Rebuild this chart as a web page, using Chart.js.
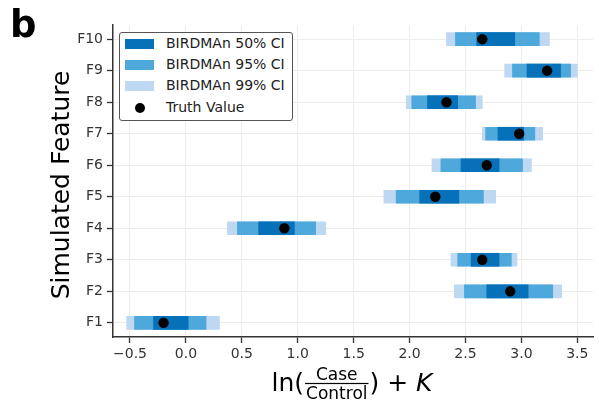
<!DOCTYPE html>
<html>
<head>
<meta charset="utf-8">
<script src="https://cdn.jsdelivr.net/npm/chart.js@4"></script>
<style>
  html, body { margin: 0; padding: 0; background: #fff; }
  #wrap { position: relative; width: 599px; height: 409px; font-family: 'DejaVu Sans', sans-serif; }
  #legend {
    position: absolute; left: 119px; top: 32px; width: 172px; height: 87px;
    border: 1.5px solid #555; border-radius: 3px; background: #fff;
  }
  .lg-row { position: absolute; left: 0; height: 20px; width: 100%; }
  .lg-sw { position: absolute; left: 5px; top: 5px; width: 29px; height: 10px; }
  .lg-dot { position: absolute; left: 15px; top: 5px; width: 10px; height: 10px; border-radius: 50%; background: #000; }
  .lg-txt { position: absolute; left: 46px; top: 1px; font-size: 14px; color: #222; white-space: nowrap; }
</style>
</head>
<body>
<div id="wrap">
  <canvas id="chart" width="599" height="409"></canvas>
  <div id="legend"></div>
</div>
<script>
// ===== SIMULATED FEATURES: BIRDMAn credible intervals =====
const features = ['F1', 'F2', 'F3', 'F4', 'F5', 'F6', 'F7', 'F8', 'F9', 'F10'];

const truthValues = [-0.20, 2.90, 2.65, 0.88, 2.23, 2.69, 2.98, 2.33, 3.23, 2.65];

const ci50Low  = [-0.29, 2.69, 2.55, 0.65, 2.09, 2.46, 2.79, 2.16, 3.05, 2.60];
const ci50High = [ 0.02, 3.06, 2.80, 0.97, 2.44, 2.80, 3.02, 2.43, 3.35, 2.94];
const ci95Low  = [-0.46, 2.49, 2.43, 0.46, 1.88, 2.28, 2.68, 2.02, 2.92, 2.41];
const ci95High = [ 0.18, 3.28, 2.91, 1.16, 2.66, 3.01, 3.12, 2.59, 3.44, 3.16];
const ci99Low  = [-0.53, 2.40, 2.37, 0.37, 1.77, 2.20, 2.65, 1.97, 2.85, 2.33];
const ci99High = [ 0.30, 3.36, 2.96, 1.25, 2.77, 3.09, 3.19, 2.65, 3.50, 3.25];

const xTicks = [-0.5, 0.0, 0.5, 1.0, 1.5, 2.0, 2.5, 3.0, 3.5];

const COLORS = { ci50: '#0671b8', ci95: '#4ea8dc', ci99: '#bdd8f0', truth: '#000000' };
const AXIS = '#333333';
const GRID = '#ececec';

Chart.defaults.font.family = "'DejaVu Sans', sans-serif";
Chart.defaults.color = '#333';

const interval = (lo, hi) => features.map((f, i) => ({ y: i + 1, x: [lo[i], hi[i]] }));

function ciDataset(label, lo, hi, color, order) {
  return {
    label, order,
    data: interval(lo, hi),
    backgroundColor: color,
    borderWidth: 0,
    borderSkipped: false,
    barThickness: 13,
    grouped: false
  };
}

// axis titles + panel letter, drawn after the chart
const annotations = {
  id: 'annotations',
  afterDraw(chart) {
    const { ctx, chartArea } = chart;
    ctx.save();
    ctx.fillStyle = '#000';

    // panel letter
    ctx.font = "bold 37px 'DejaVu Sans'";
    ctx.textAlign = 'left';
    ctx.textBaseline = 'alphabetic';
    ctx.fillText('b', 10, 37);

    // y title
    ctx.font = "25px 'DejaVu Sans'";
    ctx.translate(68.5, (chartArea.top + chartArea.bottom) / 2 + 4);
    ctx.rotate(-Math.PI / 2);
    ctx.textAlign = 'center';
    ctx.fillText('Simulated Feature', 0, 0);
    ctx.restore();

    // x title: ln(Case/Control) + K
    ctx.save();
    ctx.fillStyle = '#000';
    ctx.textBaseline = 'alphabetic';
    ctx.textAlign = 'left';
    const big = "25px 'DejaVu Sans'";
    const small = "17px 'DejaVu Sans'";
    const ital = "italic 25px 'DejaVu Sans'";
    const base = 391;

    ctx.font = big;
    const wLn = ctx.measureText('ln(').width;
    const wClose = ctx.measureText(') + ').width;
    ctx.font = small;
    const wNum = ctx.measureText('Case').width;
    const wDen = ctx.measureText('Control').width;
    const wFrac = Math.max(wNum, wDen) + 4;
    ctx.font = ital;
    const wK = ctx.measureText('K').width;

    const total = wLn + wFrac + wClose + wK;
    let x = (chartArea.left + chartArea.right) / 2 - total / 2 - 1;

    ctx.font = big;
    ctx.fillText('ln(', x, base);
    x += wLn;

    const barY = 383.5;
    ctx.font = small;
    ctx.textAlign = 'center';
    ctx.fillText('Case', x + wFrac / 2, barY - 3.5);
    ctx.fillText('Control', x + wFrac / 2, barY + 15);
    ctx.fillRect(x + 1, barY - 0.6, wFrac - 2, 1.2);
    x += wFrac;

    ctx.textAlign = 'left';
    ctx.font = big;
    ctx.fillText(') + ', x, base);
    x += wClose;
    ctx.font = ital;
    ctx.fillText('K', x, base);
    ctx.restore();
  }
};

const chart = new Chart(document.getElementById('chart'), {
  type: 'bar',
  data: {
    datasets: [
      ciDataset('BIRDMAn 50% CI', ci50Low, ci50High, COLORS.ci50, 1),
      ciDataset('BIRDMAn 95% CI', ci95Low, ci95High, COLORS.ci95, 2),
      ciDataset('BIRDMAn 99% CI', ci99Low, ci99High, COLORS.ci99, 3),
      {
        type: 'scatter',
        label: 'Truth Value',
        order: 0,
        data: truthValues.map((v, i) => ({ x: v, y: i + 1 })),
        backgroundColor: COLORS.truth,
        borderWidth: 0,
        pointRadius: 5.2
      }
    ]
  },
  options: {
    indexAxis: 'y',
    responsive: false,
    animation: false,
    layout: { padding: { left: 0, top: 25, right: 6, bottom: 0 } },
    plugins: { legend: { display: false }, tooltip: { enabled: false } },
    scales: {
      x: {
        type: 'linear',
        min: -0.652,
        max: 3.64,
        afterBuildTicks: s => { s.ticks = xTicks.map(v => ({ value: v })); },
        afterFit: s => { s.height = 72; },
        ticks: {
          font: { size: 14 },
          color: '#333',
          padding: 3,
          maxRotation: 0,
          callback: v => v.toFixed(1).replace('-', '\u2212')
        },
        grid: { color: GRID, lineWidth: 1, tickColor: AXIS, tickLength: 6, tickWidth: 1.3 },
        border: { color: AXIS, width: 1.5 }
      },
      y: {
        type: 'linear',
        offset: false,
        min: 0.55,
        max: 10.45,
        afterBuildTicks: s => { s.ticks = features.map((f, i) => ({ value: i + 1 })); },
        afterFit: s => { s.width = 113; },
        ticks: {
          font: { size: 14 },
          color: '#333',
          padding: 4,
          callback: v => features[v - 1]
        },
        grid: { offset: false, color: GRID, lineWidth: 1, tickColor: AXIS, tickLength: 6, tickWidth: 1.3 },
        border: { color: AXIS, width: 1.5 }
      }
    }
  },
  plugins: [annotations]
});

// legend box, built from the datasets in their listed order
const legendEl = document.getElementById('legend');
chart.data.datasets.forEach((ds, i) => {
  const row = document.createElement('div');
  row.className = 'lg-row';
  row.style.top = (1 + i * 21.2) + 'px';
  const mark = document.createElement('div');
  if (ds.type === 'scatter') {
    mark.className = 'lg-dot';
  } else {
    mark.className = 'lg-sw';
    mark.style.background = ds.backgroundColor;
  }
  const txt = document.createElement('div');
  txt.className = 'lg-txt';
  txt.textContent = ds.label;
  row.appendChild(mark);
  row.appendChild(txt);
  legendEl.appendChild(row);
});
</script>
</body>
</html>
